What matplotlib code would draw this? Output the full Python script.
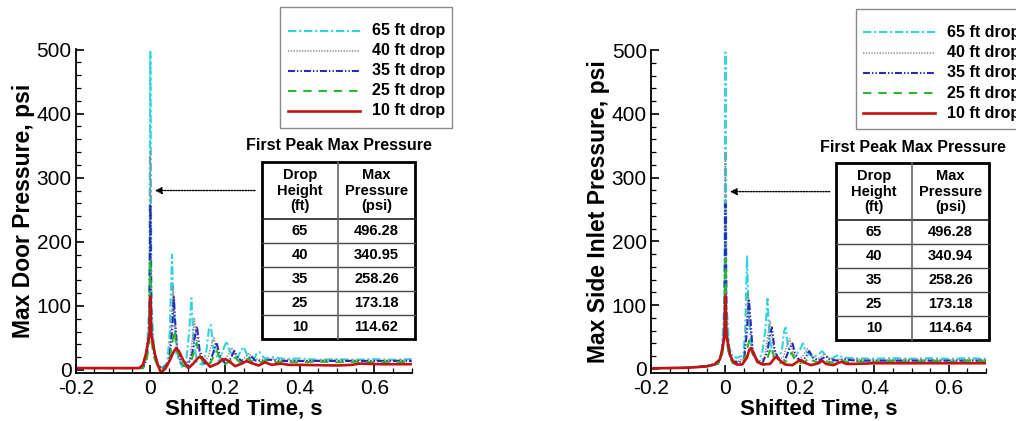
import matplotlib
matplotlib.use("Agg")
import matplotlib.pyplot as plt
from matplotlib.lines import Line2D
from matplotlib.patches import Rectangle
from matplotlib.ticker import MultipleLocator

plt.rcParams['font.family'] = ['Liberation Sans', 'DejaVu Sans']
plt.rcParams['lines.scale_dashes'] = False

# ---------------- data ----------------
drop_labels = ["65 ft drop", "40 ft drop", "35 ft drop", "25 ft drop", "10 ft drop"]
table_heights = ["65", "40", "35", "25", "10"]
door_max = ["496.28", "340.95", "258.26", "173.18", "114.62"]
inlet_max = ["496.28", "340.94", "258.26", "173.18", "114.64"]

# Left panel: Max Door Pressure
door_t65 = [-0.2, -0.02, -0.01, -0.003, 0.0, 0.003, 0.01, 0.02, 0.03, 0.045, 0.052, 0.058, 0.062, 0.07, 0.085, 0.095, 0.104, 0.11, 0.115, 0.125, 0.14, 0.15, 0.157, 0.162, 0.168, 0.185, 0.197, 0.205, 0.212, 0.23, 0.242, 0.25, 0.26, 0.275, 0.285, 0.292, 0.305, 0.33, 0.36, 0.4, 0.45, 0.5, 0.55, 0.6, 0.65, 0.7]
door_p65 = [3, 3, 20, 100, 496.28, 100, 30, 8, 3, 10, 60, 180, 90, 25, 5, 10, 60, 112, 50, 12, 8, 30, 65, 70, 35, 12, 35, 45, 30, 15, 30, 36, 22, 14, 26, 28, 18, 20, 17, 18, 16, 17, 16, 17, 16, 17]
door_t40 = [-0.2, -0.02, -0.01, -0.003, 0.0, 0.003, 0.01, 0.02, 0.035, 0.05, 0.056, 0.061, 0.066, 0.075, 0.09, 0.105, 0.113, 0.118, 0.125, 0.14, 0.155, 0.165, 0.17, 0.178, 0.195, 0.21, 0.218, 0.228, 0.245, 0.258, 0.265, 0.275, 0.3, 0.33, 0.4, 0.5, 0.6, 0.7]
door_p40 = [3, 3, 20, 80, 340.95, 80, 25, 6, 3, 15, 70, 130, 70, 20, 6, 15, 50, 80, 40, 10, 20, 42, 50, 30, 12, 25, 35, 22, 15, 22, 26, 18, 16, 17, 15, 16, 15, 16]
door_t35 = [-0.2, -0.02, -0.01, -0.003, 0.0, 0.003, 0.01, 0.02, 0.035, 0.05, 0.058, 0.063, 0.066, 0.072, 0.085, 0.1, 0.112, 0.12, 0.125, 0.132, 0.145, 0.16, 0.17, 0.177, 0.185, 0.2, 0.215, 0.225, 0.235, 0.25, 0.262, 0.27, 0.28, 0.3, 0.32, 0.35, 0.4, 0.5, 0.6, 0.7]
door_p35 = [3, 3, 18, 60, 258.26, 60, 25, 6, 3, 12, 60, 114, 80, 30, 8, 6, 25, 55, 68, 30, 10, 12, 30, 43, 25, 10, 18, 30, 18, 12, 18, 22, 15, 14, 16, 14, 14, 14, 14, 14]
door_t25 = [-0.2, -0.02, -0.01, -0.003, 0.0, 0.003, 0.01, 0.02, 0.035, 0.05, 0.058, 0.064, 0.07, 0.08, 0.095, 0.11, 0.119, 0.124, 0.13, 0.145, 0.16, 0.172, 0.178, 0.185, 0.2, 0.215, 0.225, 0.235, 0.25, 0.262, 0.27, 0.29, 0.31, 0.33, 0.35, 0.4, 0.45, 0.5, 0.55, 0.6, 0.65, 0.7]
door_p25 = [3, 3, 15, 45, 173.18, 45, 20, 5, 2, 10, 40, 62, 35, 12, 5, 15, 32, 42, 25, 8, 10, 24, 30, 20, 9, 14, 22, 14, 10, 18, 14, 11, 15, 12, 13, 12, 13, 12, 13, 12, 13, 12]
door_t10 = [-0.2, -0.03, -0.02, -0.012, -0.006, -0.002, 0.0, 0.002, 0.006, 0.012, 0.02, 0.028, 0.04, 0.052, 0.062, 0.069, 0.077, 0.088, 0.102, 0.115, 0.126, 0.133, 0.142, 0.16, 0.18, 0.193, 0.2, 0.21, 0.227, 0.245, 0.258, 0.27, 0.29, 0.307, 0.325, 0.35, 0.37, 0.4, 0.5, 0.54, 0.56, 0.62, 0.7]
door_p10 = [3, 3, 8, 25, 45, 56, 114.62, 56, 45, 25, 8, -4, 2, 15, 28, 34, 29, 15, 3, 10, 18, 21, 17, 5, 10, 16, 17, 14, 6, 10, 14, 11, 7, 12, 8, 10, 8, 8, 7, 8, 10, 9, 9]

# Right panel: Max Side Inlet Pressure
inlet_t65 = [-0.2, -0.1, -0.05, -0.02, -0.01, -0.003, 0.0, 0.003, 0.01, 0.02, 0.035, 0.048, 0.053, 0.058, 0.062, 0.07, 0.085, 0.098, 0.107, 0.113, 0.118, 0.128, 0.142, 0.152, 0.158, 0.162, 0.168, 0.185, 0.2, 0.208, 0.215, 0.235, 0.252, 0.26, 0.27, 0.285, 0.297, 0.303, 0.315, 0.34, 0.4, 0.45, 0.5, 0.55, 0.6, 0.65, 0.7]
inlet_p65 = [1, 2, 4, 8, 25, 100, 496.28, 100, 35, 18, 18, 22, 60, 178, 90, 30, 15, 22, 60, 110, 50, 20, 16, 30, 60, 65, 35, 18, 30, 40, 28, 18, 24, 28, 20, 16, 20, 22, 18, 17, 16, 17, 16, 17, 16, 17, 16]
inlet_t40 = [-0.2, -0.1, -0.05, -0.02, -0.01, -0.003, 0.0, 0.003, 0.01, 0.02, 0.035, 0.05, 0.056, 0.061, 0.066, 0.075, 0.09, 0.105, 0.113, 0.12, 0.127, 0.14, 0.155, 0.167, 0.173, 0.18, 0.195, 0.21, 0.22, 0.23, 0.245, 0.258, 0.266, 0.275, 0.3, 0.33, 0.4, 0.5, 0.6, 0.7]
inlet_p40 = [1, 2, 5, 9, 25, 80, 340.94, 80, 30, 14, 12, 18, 70, 120, 70, 22, 12, 18, 50, 75, 40, 14, 18, 40, 48, 28, 14, 22, 32, 22, 15, 20, 24, 17, 15, 16, 14, 15, 14, 15]
inlet_t35 = [-0.2, -0.1, -0.05, -0.02, -0.01, -0.003, 0.0, 0.003, 0.01, 0.02, 0.035, 0.05, 0.058, 0.063, 0.067, 0.073, 0.085, 0.1, 0.113, 0.12, 0.125, 0.132, 0.145, 0.16, 0.172, 0.18, 0.187, 0.2, 0.215, 0.225, 0.235, 0.25, 0.262, 0.27, 0.28, 0.3, 0.32, 0.35, 0.4, 0.5, 0.6, 0.7]
inlet_p35 = [1, 2, 5, 9, 22, 60, 258.26, 60, 25, 12, 10, 14, 60, 110, 80, 30, 12, 10, 28, 55, 65, 30, 12, 14, 32, 40, 25, 12, 18, 28, 18, 13, 17, 20, 15, 13, 15, 13, 13, 13, 13, 13]
inlet_t25 = [-0.2, -0.1, -0.05, -0.02, -0.01, -0.003, 0.0, 0.003, 0.01, 0.02, 0.035, 0.05, 0.058, 0.064, 0.07, 0.08, 0.095, 0.11, 0.119, 0.124, 0.13, 0.145, 0.16, 0.172, 0.178, 0.185, 0.2, 0.215, 0.225, 0.235, 0.25, 0.262, 0.27, 0.29, 0.31, 0.33, 0.35, 0.4, 0.45, 0.5, 0.55, 0.6, 0.65, 0.7]
inlet_p25 = [1, 2, 4, 8, 18, 45, 173.18, 45, 20, 9, 8, 12, 30, 45, 28, 12, 8, 12, 28, 35, 20, 9, 10, 20, 25, 16, 9, 12, 18, 13, 10, 14, 12, 10, 13, 11, 12, 11, 13, 11, 13, 11, 13, 12]
inlet_t10 = [-0.2, -0.1, -0.05, -0.03, -0.015, -0.007, -0.002, 0.0, 0.002, 0.006, 0.012, 0.02, 0.03, 0.045, 0.058, 0.064, 0.069, 0.075, 0.085, 0.1, 0.12, 0.132, 0.138, 0.145, 0.16, 0.18, 0.195, 0.204, 0.212, 0.23, 0.25, 0.26, 0.27, 0.29, 0.305, 0.312, 0.325, 0.35, 0.4, 0.5, 0.6, 0.7]
inlet_p10 = [1, 2, 4, 7, 15, 35, 55, 114.64, 55, 42, 22, 12, 7, 7, 18, 30, 33, 25, 12, 7, 8, 17, 19, 14, 7, 6, 12, 14, 10, 6, 9, 13, 8, 6, 10, 11, 8, 8, 9, 9, 9, 9]

# ---------------- styles ----------------
colors = ['#2ED5DF', '#8C8C8C', '#2B2BB8', '#2DB52D', '#C41212']
styles = [(0, (6, 2, 1.5, 2)), (0, (1, 1)), (0, (5, 1.5, 1, 1.5, 1, 1.5)), (0, (6, 5)), '-']
widths = [1.5, 1.1, 1.5, 1.5, 1.9]

W, H = 1016, 421
fig = plt.figure(figsize=(W / 100, H / 100), dpi=100)


def fx(px):
    return px / W


def fy(py):
    return 1 - py / H


def make_axes(rect_px, ylim, ylabel, series, arrow_y, table_vals, tbl, leg):
    x0, y0, x1, y1 = rect_px
    ax = fig.add_axes([fx(x0), fy(y1), fx(x1) - fx(x0), fy(y0) - fy(y1)])
    for (t, p), c, ls, lw in zip(series, colors, styles, widths):
        ax.plot(t, p, color=c, linestyle=ls, linewidth=lw)
    ax.set_xlim(-0.2, 0.7)
    ax.set_ylim(*ylim)
    ax.spines['top'].set_visible(False)
    ax.spines['right'].set_visible(False)
    for s in ('left', 'bottom'):
        ax.spines[s].set_linewidth(1.3)
    ax.xaxis.set_minor_locator(MultipleLocator(0.05))
    ax.yaxis.set_major_locator(MultipleLocator(100))
    ax.yaxis.set_minor_locator(MultipleLocator(20))
    ax.set_xticks([-0.2, 0, 0.2, 0.4, 0.6])
    ax.set_xticklabels(['-0.2', '0', '0.2', '0.4', '0.6'])
    ax.tick_params(which='major', direction='in', length=6, width=1.2, labelsize=15, pad=4)
    ax.tick_params(which='minor', direction='in', length=3.5, width=0.9)
    ax.tick_params(axis='y', pad=3)
    ax.set_xlabel('Shifted Time, s', fontsize=16, fontweight='bold', labelpad=1)
    ax.set_ylabel(ylabel, fontsize=16.5, fontweight='bold', labelpad=1)

    # arrow
    ax.annotate('', xy=(0.012, arrow_y), xytext=(0.28, arrow_y),
                arrowprops=dict(arrowstyle='-|>', linestyle=(0, (1, 1)), lw=1.0,
                                color='black', mutation_scale=10, shrinkA=0, shrinkB=0))

    # table
    tx0, tx1, txd, ty0, tyh, rh, title_y = tbl
    fig.text(fx((tx0 + tx1) / 2), fy(title_y), 'First Peak Max Pressure', ha='center', va='center',
             fontsize=11.5, fontweight='bold')
    nrows = len(table_heights)
    tyb = tyh + nrows * rh
    for i in range(1, nrows):
        yy = tyh + i * rh
        fig.add_artist(Line2D([fx(tx0), fx(tx1)], [fy(yy), fy(yy)], color='#444444', lw=1.0))
    fig.add_artist(Line2D([fx(tx0), fx(tx1)], [fy(tyh), fy(tyh)], color='#222222', lw=1.2))
    fig.add_artist(Line2D([fx(txd), fx(txd)], [fy(ty0), fy(tyb)], color='#666666', lw=1.2))
    fig.add_artist(Rectangle((fx(tx0), fy(tyb)), fx(tx1) - fx(tx0), fy(ty0) - fy(tyb),
                             fill=False, edgecolor='black', lw=2.0))
    c1 = (tx0 + txd) / 2
    c2 = (txd + tx1) / 2
    fig.text(fx(c1), fy((ty0 + tyh) / 2), 'Drop\nHeight\n(ft)', ha='center', va='center',
             fontsize=10.5, fontweight='bold', linespacing=1.15)
    fig.text(fx(c2), fy((ty0 + tyh) / 2), 'Max\nPressure\n(psi)', ha='center', va='center',
             fontsize=10.5, fontweight='bold', linespacing=1.15)
    for i, (h, v) in enumerate(zip(table_heights, table_vals)):
        yc = tyh + (i + 0.5) * rh
        fig.text(fx(c1), fy(yc), h, ha='center', va='center', fontsize=10.5, fontweight='bold')
        fig.text(fx(c2), fy(yc), v, ha='center', va='center', fontsize=10.5, fontweight='bold')

    # legend
    lx0, lx1, ly0, ly1, hx0, hx1, txx, row0, dr = leg
    fig.add_artist(Rectangle((fx(lx0), fy(ly1)), fx(lx1) - fx(lx0), fy(ly0) - fy(ly1),
                             fill=False, edgecolor='#8A8A8A', lw=1.0))
    for i, (lab, c, ls, lw) in enumerate(zip(drop_labels, colors, styles, widths)):
        yy = row0 + i * dr
        fig.add_artist(Line2D([fx(hx0), fx(hx1)], [fy(yy), fy(yy)], color=c, linestyle=ls, lw=lw))
        fig.text(fx(txx), fy(yy), lab, ha='left', va='center', fontsize=11.5, fontweight='bold')
    return ax


door_series = [(door_t65, door_p65), (door_t40, door_p40), (door_t35, door_p35),
               (door_t25, door_p25), (door_t10, door_p10)]
inlet_series = [(inlet_t65, inlet_p65), (inlet_t40, inlet_p40), (inlet_t35, inlet_p35),
                (inlet_t25, inlet_p25), (inlet_t10, inlet_p10)]

make_axes((75.7, 49, 411.7, 373), (-4.7, 500.8), 'Max Door Pressure, psi', door_series, 280,
          door_max, (262, 415, 338, 162, 219, 24, 146),
          (280, 452, 7, 128, 288, 360, 372, 30.7, 20))
make_axes((651, 50, 986, 373), (-6.3, 500), 'Max Side Inlet Pressure, psi', inlet_series, 278,
          inlet_max, (836, 989, 912, 163, 220, 24, 147),
          (856, 1040, 9, 129, 863, 935, 947, 32.3, 20.25))

fig.savefig('out.png', dpi=100)
